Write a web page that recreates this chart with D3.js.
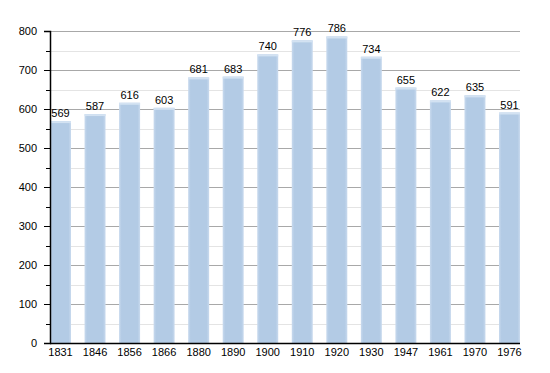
<!DOCTYPE html>
<html>
<head>
<meta charset="utf-8">
<script src="https://cdn.jsdelivr.net/npm/d3@7"></script>
<style>
  body { margin: 0; background: #fff; }
  svg text { font-family: "Liberation Sans", Arial, sans-serif; font-size: 11px; fill: #000; }
</style>
</head>
<body>
<div id="chart"></div>
<script>
// population by census year
const years = ["1831", "1846", "1856", "1866", "1880", "1890", "1900", "1910", "1920", "1930", "1947", "1961", "1970", "1976"];
const population = [569, 587, 616, 603, 681, 683, 740, 776, 786, 734, 655, 622, 635, 591];
const yTicks = [0, 100, 200, 300, 400, 500, 600, 700, 800];

const width = 550, height = 373;
const margin = {left: 50, right: 30, top: 31, bottom: 30};
const w = width - margin.left - margin.right;
const h = height - margin.top - margin.bottom;

const svg = d3.select("#chart").append("svg")
  .attr("width", width)
  .attr("height", height);

const defs = svg.append("defs");
const grad = defs.append("linearGradient").attr("id", "barGrad")
  .attr("x1", "0%").attr("x2", "100%").attr("y1", "0%").attr("y2", "0%");
grad.append("stop").attr("offset", "0%").attr("stop-color", "#c9daee");
grad.append("stop").attr("offset", "12%").attr("stop-color", "#b3cbe5");
grad.append("stop").attr("offset", "88%").attr("stop-color", "#b3cbe5");
grad.append("stop").attr("offset", "100%").attr("stop-color", "#c9daee");

const g = svg.append("g").attr("transform", `translate(${margin.left},${margin.top})`);

const barW = 21;
const x = d3.scaleBand()
  .domain(years)
  .range([0, w + (w - barW) / (years.length - 1) - barW])
  .paddingInner(0).paddingOuter(0);

const y = d3.scaleLinear().domain([0, 800]).range([h, 0]);

// minor gridlines every 50
g.append("g").selectAll("line")
  .data(d3.range(50, 800, 100))
  .join("line")
  .attr("x1", 0).attr("x2", w)
  .attr("y1", d => Math.round(y(d)) + 0.5).attr("y2", d => Math.round(y(d)) + 0.5)
  .attr("stroke", "#e4e4e4");

// major gridlines
g.append("g").selectAll("line")
  .data(yTicks.slice(1))
  .join("line")
  .attr("x1", 0).attr("x2", w)
  .attr("y1", d => Math.round(y(d)) + 0.5).attr("y2", d => Math.round(y(d)) + 0.5)
  .attr("stroke", "#a8a8a8");

// bars
g.append("g").selectAll("rect")
  .data(population)
  .join("rect")
  .attr("x", (d, i) => x(years[i]))
  .attr("width", barW)
  .attr("y", d => y(d))
  .attr("height", d => h - y(d))
  .attr("fill", "url(#barGrad)");

// light strip on top of each bar
g.append("g").selectAll("rect")
  .data(population)
  .join("rect")
  .attr("x", (d, i) => x(years[i]))
  .attr("width", barW)
  .attr("y", d => y(d))
  .attr("height", 2)
  .attr("fill", "#d3e2f2");

// value labels
g.append("g").selectAll("text")
  .data(population)
  .join("text")
  .attr("x", (d, i) => x(years[i]) + barW / 2)
  .attr("y", d => y(d) - 4)
  .attr("text-anchor", "middle")
  .text(d => d);

// y axis
const yAxis = g.append("g")
  .call(d3.axisLeft(y).tickValues(yTicks).tickSize(6).tickPadding(7).tickFormat(d3.format("d")));
yAxis.select(".domain").attr("stroke", "#000").attr("stroke-width", 1.5);
yAxis.selectAll(".tick line").attr("stroke", "#000");
yAxis.selectAll("text").style("font-size", "11px");

// minor ticks on y axis
g.append("g").selectAll("line")
  .data(d3.range(50, 800, 100))
  .join("line")
  .attr("x1", -4).attr("x2", 0)
  .attr("y1", d => Math.round(y(d)) + 0.5).attr("y2", d => Math.round(y(d)) + 0.5)
  .attr("stroke", "#000");

// x axis line
g.append("line")
  .attr("x1", 0).attr("x2", w)
  .attr("y1", h + 0.5).attr("y2", h + 0.5)
  .attr("stroke", "#000").attr("stroke-width", 1.5);

// category labels
g.append("g").selectAll("text")
  .data(years)
  .join("text")
  .attr("x", d => x(d) + barW / 2)
  .attr("y", h + 13)
  .attr("text-anchor", "middle")
  .text(d => d);
</script>
</body>
</html>
